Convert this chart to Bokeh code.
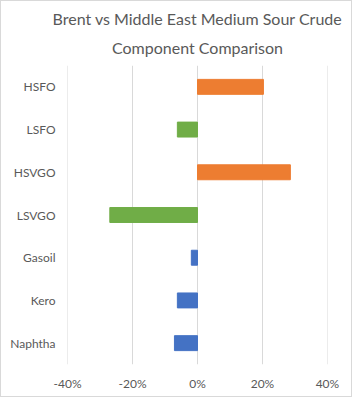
from bokeh.plotting import figure
from bokeh.models import FactorRange, Range1d, FixedTicker, NumeralTickFormatter, Title, ColumnDataSource
from bokeh.embed import file_html
from bokeh.resources import INLINE

categories = ["HSFO", "LSFO", "HSVGO", "LSVGO", "Gasoil", "Kero", "Naphtha"]
values = [0.203, -0.062, 0.286, -0.270, -0.019, -0.062, -0.071]
colors = ["#ED7D31", "#70AD47", "#ED7D31", "#70AD47", "#4472C4", "#4472C4", "#4472C4"]
x_ticks = [-0.4, -0.2, 0.0, 0.2, 0.4]
title_line1 = "Brent vs Middle East Medium Sour Crude"
title_line2 = "Component Comparison"

FONT = "Lato"
GREY = "#595959"

src = ColumnDataSource(dict(cat=categories, val=values, color=colors))

p = figure(width=352, height=397, output_backend="svg", toolbar_location=None,
           y_range=FactorRange(*list(reversed(categories))),
           x_range=Range1d(-0.4003, 0.4003),
           min_border_left=66, min_border_right=26, min_border_top=64, min_border_bottom=34)
p.styles = {"border": "1px solid #D9D9D9"}

p.hbar(y="cat", left=0, right="val", height=0.35, color="color", source=src)

p.add_layout(Title(text=title_line2, align="center", text_font=FONT,
                   text_font_size="16px", text_color=GREY, text_font_style="normal",
                   standoff=17), "above")
p.add_layout(Title(text=title_line1, align="center", text_font=FONT,
                   text_font_size="16px", text_color=GREY, text_font_style="normal",
                   text_line_height=0.75, standoff=0), "above")

p.outline_line_color = None
p.background_fill_color = "white"
p.border_fill_color = "white"

p.xaxis.ticker = FixedTicker(ticks=x_ticks)
p.xaxis.formatter = NumeralTickFormatter(format="0%")
p.xgrid.ticker = FixedTicker(ticks=x_ticks)
p.xgrid.grid_line_color = "#D9D9D9"
p.ygrid.grid_line_color = None

for ax in (p.xaxis[0], p.yaxis[0]):
    ax.axis_line_color = None
    ax.major_tick_line_color = None
    ax.minor_tick_line_color = None
    ax.major_tick_out = 0
    ax.major_tick_in = 0
    ax.major_label_text_font = FONT
    ax.major_label_text_font_size = "12px"
    ax.major_label_text_color = GREY
p.xaxis.major_label_standoff = 11
p.yaxis.major_label_standoff = 12

open("out.html", "w").write(file_html(p, INLINE))
